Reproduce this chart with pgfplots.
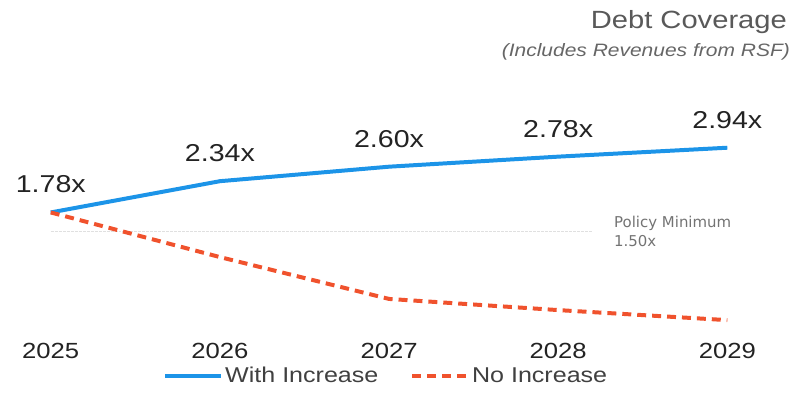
\documentclass[border=0pt]{standalone}
\usepackage{fontspec}
\setmainfont[FakeStretch=1.17]{Liberation Sans}
\newfontfamily\policyfont{DejaVu Sans}
\usepackage{pgfplots}
\pgfplotsset{compat=1.18}
\definecolor{blueline}{RGB}{28,148,232}
\definecolor{redline}{RGB}{240,82,45}
\definecolor{txt}{RGB}{35,35,35}
\begin{document}
\begin{tikzpicture}
\path (0,0) rectangle (808bp,394bp);
\begin{axis}[
  at={(-2.9bp,52bp)}, anchor=south west,
  scale only axis, width=780.85bp, height=241.9bp,
  xmin=2024.7, xmax=2029.3, ymin=-0.52, ymax=3.80,
  clip=false,
  axis line style={draw=none},
  tick style={draw=none},
  ytick=\empty,
  xtick={2025,2026,2027,2028,2029},
  xticklabels={2025,2026,2027,2028,2029},
  xticklabel style={font=\fontsize{22bp}{26bp}\selectfont, text=txt, anchor=north, inner sep=0pt, yshift=-2bp},
  legend columns=2,
  legend style={draw=none, fill=none, at={(0.4965,-0.1447)}, anchor=center,
    font=\fontsize{21.5bp}{24bp}\selectfont, text=black!75,
    /tikz/every even column/.append style={column sep=30bp},
    inner sep=0pt, cells={anchor=west}},
  legend image code/.code={\draw[#1] (0bp,0bp) -- (56bp,0bp);},
]
% policy minimum reference line (faint)
\addplot[forget plot, color=black!12, line width=1.2bp, dash pattern=on 3bp off 1bp] coordinates {(2025,1.44) (2028.2,1.44)};
\addplot[color=blueline, line width=4bp, line join=round,
  nodes near coords={\pgfplotspointmeta}, point meta=explicit symbolic,
  every node near coord/.append style={anchor=center, yshift=28bp, text=txt, font=\fontsize{24.5bp}{28bp}\selectfont}]
  coordinates {(2025,1.78) [1.78x] (2026,2.34) [2.34x] (2027,2.60) [2.60x] (2028,2.78) [2.78x] (2029,2.94) [2.94x]};
\addlegendentry{With Increase}
\addplot[color=redline, line width=4bp, dash pattern=on 9bp off 6bp]
  coordinates {(2025,1.78) (2026,0.98) (2027,0.23) (2028,0.03) (2029,-0.15)};
\addlegendentry{No Increase}
\node[anchor=west, align=left, inner sep=0pt, text=black!55, font=\policyfont\fontsize{15bp}{19bp}\selectfont] at (axis cs:2028.33,1.44) {Policy Minimum\\1.50x};
\end{axis}
\node[anchor=east, inner sep=0pt, text=black!65, font=\fontsize{25bp}{29bp}\selectfont] at (787bp,372bp) {Debt Coverage};
\node[anchor=east, inner sep=0pt, text=black!60, font=\fontsize{18bp}{22bp}\selectfont\itshape] at (790bp,342bp) {(Includes Revenues from RSF)};
\end{tikzpicture}
\end{document}
